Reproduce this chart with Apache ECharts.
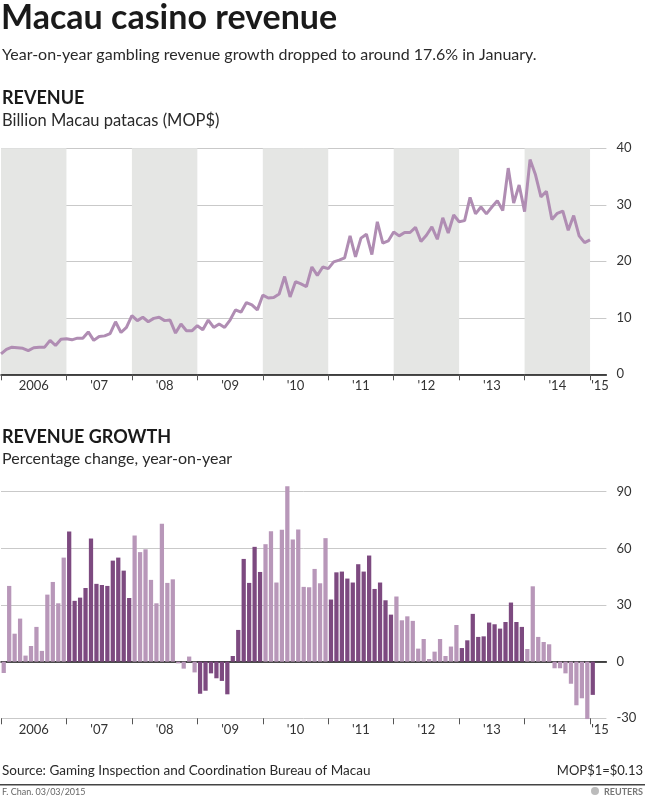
<!DOCTYPE html>
<html><head><meta charset="utf-8">
<script src="https://cdn.jsdelivr.net/npm/echarts@6/dist/echarts.min.js"></script>
<style>html,body{margin:0;padding:0;background:#fff}#c{width:645px;height:797px}</style>
</head><body><div id="c"></div>
<script>
// ---- data ----
const years = ['2006', "'07", "'08", "'09", "'10", "'11", "'12", "'13", "'14", "'15"];
const revenueTicks = [0, 10, 20, 30, 40];
const growthTicks = [-30, 0, 30, 60, 90];
// Monthly gross gaming revenue, billion MOP$, Jan 2006 - Jan 2015
const revenue = [
  3.6, 4.4, 4.8, 4.7, 4.6, 4.2, 4.7, 4.8, 4.8, 6.0, 5.1, 6.2,
  6.3, 6.1, 6.4, 6.4, 7.5, 6.0, 6.7, 6.8, 7.2, 9.3, 7.4, 8.3,
  10.4, 9.5, 10.1, 9.3, 9.9, 10.1, 9.5, 9.6, 7.3, 8.9, 7.7, 7.7,
  8.6, 7.9, 9.6, 8.3, 8.9, 8.3, 9.6, 11.4, 11.0, 12.7, 12.3, 11.4,
  14.0, 13.5, 13.6, 14.2, 17.3, 13.7, 16.4, 16.0, 15.5, 19.0, 17.5, 19.0,
  18.7, 19.9, 20.2, 20.6, 24.5, 20.8, 24.1, 24.8, 21.2, 27.0, 23.2, 23.6,
  25.2, 24.5, 25.1, 25.1, 26.0, 23.5, 24.6, 26.1, 23.9, 27.7, 25.0, 28.2,
  27.0, 27.2, 31.3, 28.4, 29.6, 28.4, 29.6, 30.7, 29.0, 36.5, 30.3, 33.5,
  28.8, 38.0, 35.3, 31.4, 32.4, 27.4, 28.5, 28.9, 25.5, 28.1, 24.5, 23.3,
  23.8
];
// Year-on-year growth, %
const growth = [
  -6.0, 40.1, 14.8, 22.8, 3.2, 8.3, 18.4, 5.7, 35.5, 42.2, 30.9, 55.1,
  68.9, 32.2, 33.9, 39.0, 65.2, 41.2, 40.6, 40.1, 53.5, 55.1, 48.2, 33.7,
  66.8, 58.0, 59.5, 43.3, 30.9, 73.0, 41.7, 43.6, -0.9, -3.7, 2.7, -5.7,
  -17.0, -15.4, -6.2, -8.8, -10.2, -17.3, 3.0, 16.8, 54.4, 41.7, 60.8, 47.5,
  62.2, 69.1, 41.9, 69.8, 92.9, 64.7, 70.0, 39.6, 39.4, 49.1, 41.5, 65.4,
  32.9, 47.3, 47.7, 44.0, 41.9, 51.6, 47.7, 56.2, 38.5, 41.9, 32.5, 24.9,
  34.5, 21.9, 24.0, 21.6, 6.9, 12.0, 1.4, 5.3, 12.0, 3.0, 8.0, 19.4,
  7.2, 11.3, 25.3, 13.1, 13.4, 20.7, 19.8, 17.5, 21.0, 31.3, 21.0, 18.4,
  6.7, 39.9, 13.1, 10.4, 9.2, -3.5, -3.5, -6.2, -11.7, -23.1, -19.4, -30.4,
  -17.6
];

// ---- categories ----
const months = [];
for (let i = 0; i < revenue.length; i++) {
  const y = 2006 + Math.floor(i / 12), m = (i % 12) + 1;
  months.push(y + '-' + (m < 10 ? '0' + m : m));
}
const pointCats = months.concat(['p1', 'p2', 'p3']);   // boundaryGap:false axis
const barCats = months.concat(['q1', 'q2']);           // boundaryGap:true axis

const FONT = 'Lato';
const LIGHT = '#b897b9', DARK = '#7d4a80';
const LINE = '#b08db3';

function yearLabel(v, idx) {
  if (idx === revenue.length - 1) return '{e|' + years[years.length - 1] + '}';
  return years[Math.floor(idx / 12)];
}
function showLabel(idx) {
  return idx === revenue.length - 1 || (idx % 12 === 6 && idx < revenue.length);
}
const labelAxisCommon = {
  type: 'category', boundaryGap: false, data: pointCats,
  axisTick: { show: true, interval: 11, length: 6, lineStyle: { color: '#555', width: 1 } },
  axisLabel: {
    interval: (i) => showLabel(i), formatter: yearLabel, color: '#333',
    fontFamily: FONT, fontSize: 13, margin: 5,
    rich: { e: { padding: [0, 0, 0, 20], fontFamily: FONT, fontSize: 13, color: '#333' } }
  },
  splitLine: { show: false }
};

const chart = echarts.init(document.getElementById('c'), null, { renderer: 'canvas' });
const option = {
  animation: false,
  backgroundColor: '#fff',
  grid: [
    { left: 1, right: 38.6, top: 148.3, bottom: 797 - 374.3 },
    { left: 1, right: 38.6, top: 491.7, bottom: 797 - 718.3 }
  ],
  xAxis: [
    Object.assign({}, labelAxisCommon, {
      gridIndex: 0, position: 'bottom',
      axisLine: { show: true, onZero: true, lineStyle: { color: '#111', width: 1.5 } },
      splitArea: { show: true, interval: 11, areaStyle: { color: ['#e5e6e4', 'rgba(255,255,255,0)'] } }
    }),
    Object.assign({}, labelAxisCommon, {
      gridIndex: 1, position: 'bottom',
      axisLine: { show: false, onZero: false }
    }),
    {
      type: 'category', gridIndex: 1, position: 'bottom', boundaryGap: true, data: barCats,
      axisLine: { show: true, onZero: true, lineStyle: { color: '#111', width: 1.5 } },
      axisTick: { show: false }, axisLabel: { show: false }, splitLine: { show: false }
    }
  ],
  yAxis: [
    {
      type: 'value', gridIndex: 0, position: 'right',
      min: revenueTicks[0], max: revenueTicks[revenueTicks.length - 1], interval: revenueTicks[1] - revenueTicks[0],
      axisLine: { show: false }, axisTick: { show: false },
      axisLabel: { color: '#333', fontFamily: FONT, fontSize: 13, margin: 10 },
      splitLine: { show: true, lineStyle: { color: '#c9c9c9', width: 1 } }
    },
    {
      type: 'value', gridIndex: 1, position: 'right',
      min: growthTicks[0], max: growthTicks[growthTicks.length - 1], interval: growthTicks[1] - growthTicks[0],
      axisLine: { show: false }, axisTick: { show: false },
      axisLabel: { color: '#333', fontFamily: FONT, fontSize: 13, margin: 10 },
      splitLine: { show: true, lineStyle: { color: '#c9c9c9', width: 1 } }
    }
  ],
  series: [
    {
      type: 'line', xAxisIndex: 0, yAxisIndex: 0, data: revenue,
      symbol: 'none', lineStyle: { color: LINE, width: 3 }, z: 5
    },
    {
      type: 'bar', xAxisIndex: 2, yAxisIndex: 1, data: growth, clip: false,
      barCategoryGap: '22%',
      itemStyle: { color: (p) => (Math.floor(p.dataIndex / 12) % 2 === 1 ? DARK : LIGHT) },
      z: 3
    }
  ],
  graphic: [
    { type: 'text', left: 1, top: 1, style: { text: 'Macau casino revenue', font: 'bold 34px ' + FONT, fill: '#1a1a1a' } },
    { type: 'text', left: 2, top: 47, style: { text: 'Year-on-year gambling revenue growth dropped to around 17.6% in January.', font: '16px ' + FONT, fill: '#2a2a2a' } },
    { type: 'text', left: 2, top: 89, style: { text: 'REVENUE', font: 'bold 18px ' + FONT, fill: '#1a1a1a' } },
    { type: 'text', left: 2, top: 112, style: { text: 'Billion Macau patacas (MOP$)', font: '16.5px ' + FONT, fill: '#2a2a2a' } },
    { type: 'text', left: 2, top: 428, style: { text: 'REVENUE GROWTH', font: 'bold 18px ' + FONT, fill: '#1a1a1a' } },
    { type: 'text', left: 2, top: 451, style: { text: 'Percentage change, year-on-year', font: '16px ' + FONT, fill: '#2a2a2a' } },
    { type: 'text', left: 2, top: 764, style: { text: 'Source: Gaming Inspection and Coordination Bureau of Macau', font: '13.5px ' + FONT, fill: '#2a2a2a' } },
    { type: 'text', right: 2, top: 764, style: { text: 'MOP$1=$0.13', font: '13px ' + FONT, fill: '#2a2a2a' } },
    { type: 'rect', left: 0, top: 784, shape: { width: 645, height: 1.5 }, style: { fill: '#444' } },
    { type: 'text', left: 2, top: 788, style: { text: 'F. Chan. 03/03/2015', font: '9px ' + FONT, fill: '#666' } },
    { type: 'circle', left: 591, top: 787, shape: { r: 4 }, style: { fill: '#bbb' } },
    { type: 'text', right: 2, top: 788, style: { text: 'REUTERS', font: 'bold 9px ' + FONT, fill: '#777' } }
  ]
};
chart.setOption(option);
</script>
</body></html>
